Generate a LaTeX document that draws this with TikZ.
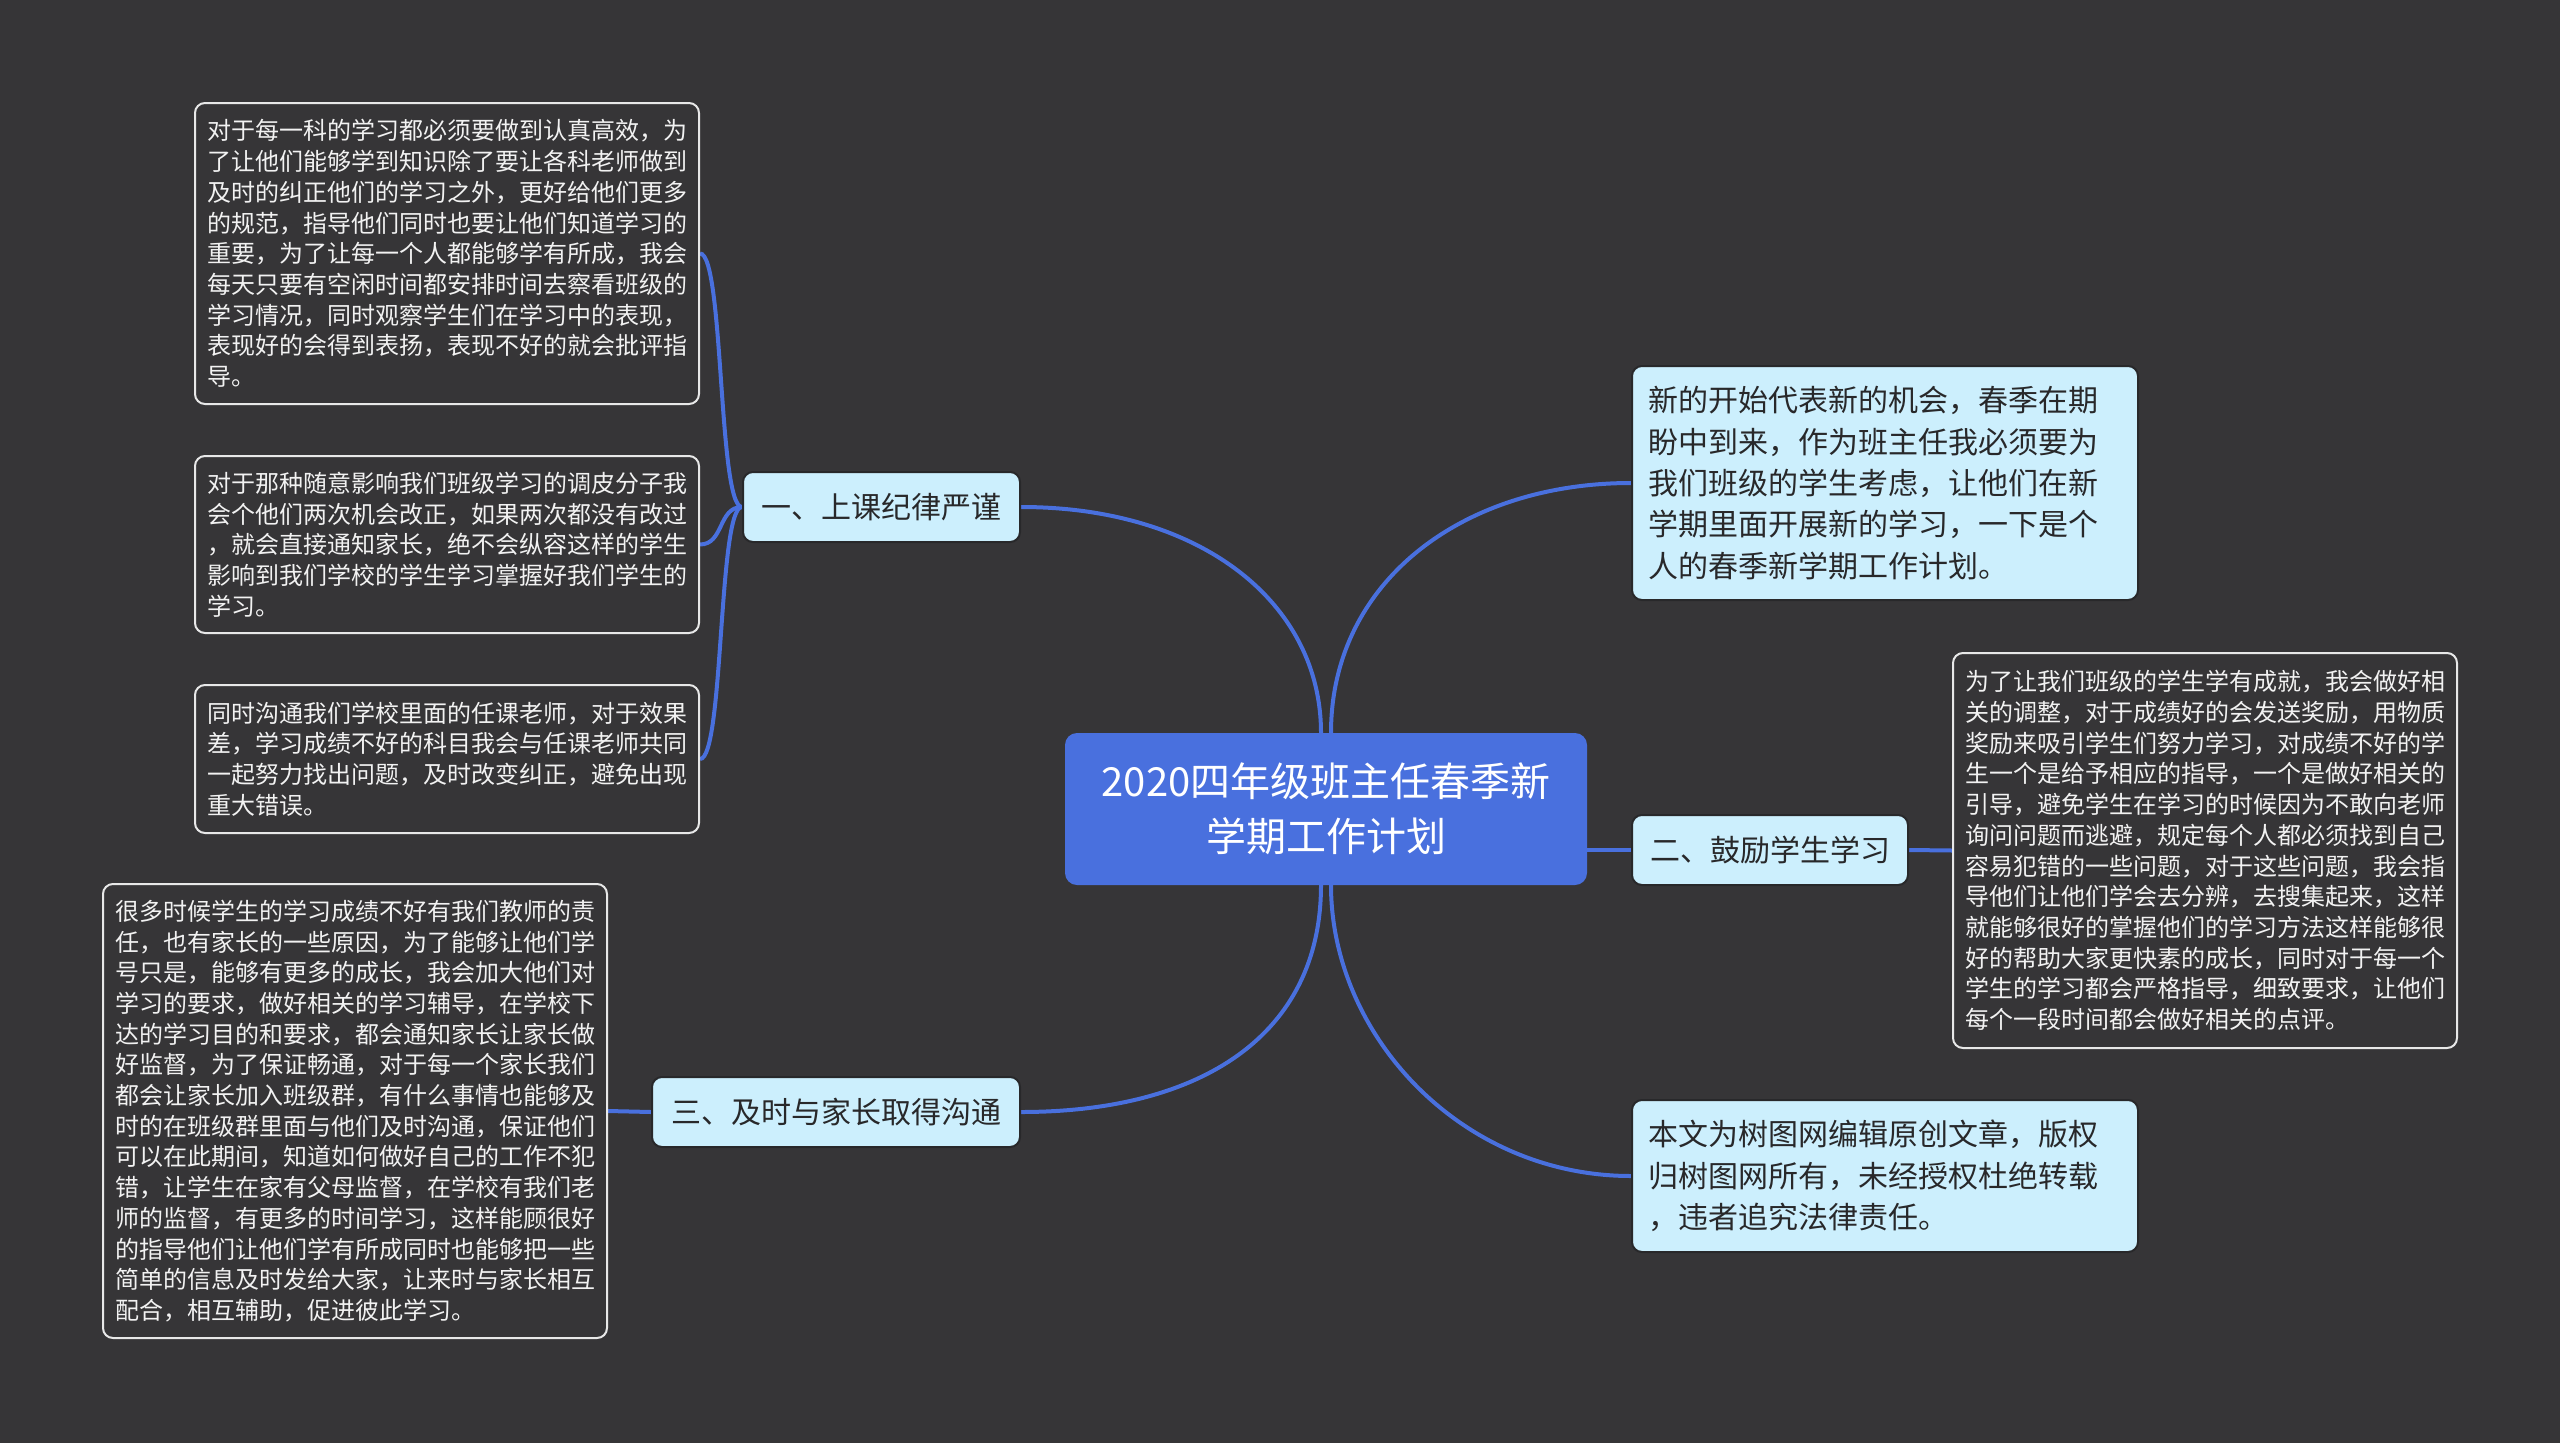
\documentclass[tikz,border=0pt]{standalone}
\usepackage{fontspec}
\setmainfont{Noto Sans CJK SC}
\definecolor{bg}{RGB}{54,53,55}
\definecolor{mainblue}{RGB}{73,112,222}
\definecolor{lightfill}{RGB}{204,239,253}
\definecolor{darktext}{RGB}{40,40,42}
\definecolor{paletext}{RGB}{242,242,242}
\definecolor{boxline}{RGB}{232,232,232}
\pgfdeclarelayer{canvas}
\pgfdeclarelayer{links}
\pgfsetlayers{canvas,links,main}
\tikzset{
  darkbox/.style={draw=boxline, line width=2pt, fill=bg, rounded corners=10pt,
    text=paletext, font=\fontsize{24}{30.7}\selectfont, align=left,
    inner xsep=12pt, inner ysep=0pt, text width=480pt},
  notebox/.style={draw=darktext, line width=2pt, fill=lightfill, rounded corners=10pt,
    text=darktext, font=\fontsize{30}{41.3}\selectfont, align=left,
    inner xsep=16pt, inner ysep=0pt, text width=474pt},
  topicbox/.style={draw=darktext, line width=2pt, fill=lightfill, rounded corners=10pt,
    text=darktext, font=\fontsize{30}{36}\selectfont, align=center, inner sep=0pt},
  rootbox/.style={fill=mainblue, rounded corners=12pt, text=white,
    font=\fontsize{40}{55}\selectfont, align=center, inner sep=0pt},
  link/.style={draw=mainblue, line width=4pt}
}
\begin{document}
\begin{tikzpicture}[x=1pt,y=-1pt]
\useasboundingbox (0,0) rectangle (2560,1443);
\begin{pgfonlayer}{canvas}
\fill[bg] (0,0) rectangle (2560,1443);
\end{pgfonlayer}

\node[rootbox, minimum width=522pt, minimum height=152pt] (root) at (1326,809)
  {2020四年级班主任春季新\\学期工作计划};

\node[topicbox, minimum width=277pt, minimum height=70pt] (t1) at (881.5,507) {一、上课纪律严谨};
\node[topicbox, minimum width=276pt, minimum height=70pt] (t2) at (1770,850) {二、鼓励学生学习};
\node[topicbox, minimum width=368pt, minimum height=70pt] (t3) at (836,1112) {三、及时与家长取得沟通};

\node[notebox, minimum height=234pt] (r1) at (1885,483)
  {新的开始代表新的机会，春季在期\\盼中到来，作为班主任我必须要为\\我们班级的学生考虑，让他们在新\\学期里面开展新的学习，一下是个\\人的春季新学期工作计划。};
\node[notebox, minimum height=152pt] (r3) at (1885,1176)
  {本文为树图网编辑原创文章，版权\\归树图网所有，未经授权杜绝转载\\，违者追究法律责任。};

\node[darkbox, minimum height=395pt] (d2) at (2205,850.5)
  {为了让我们班级的学生学有成就，我会做好相\\关的调整，对于成绩好的会发送奖励，用物质\\奖励来吸引学生们努力学习，对成绩不好的学\\生一个是给予相应的指导，一个是做好相关的\\引导，避免学生在学习的时候因为不敢向老师\\询问问题而逃避，规定每个人都必须找到自己\\容易犯错的一些问题，对于这些问题，我会指\\导他们让他们学会去分辨，去搜集起来，这样\\就能够很好的掌握他们的学习方法这样能够很\\好的帮助大家更快素的成长，同时对于每一个\\学生的学习都会严格指导，细致要求，让他们\\每个一段时间都会做好相关的点评。};

\node[darkbox, minimum height=301pt] (l1) at (447,253.5)
  {对于每一科的学习都必须要做到认真高效，为\\了让他们能够学到知识除了要让各科老师做到\\及时的纠正他们的学习之外，更好给他们更多\\的规范，指导他们同时也要让他们知道学习的\\重要，为了让每一个人都能够学有所成，我会\\每天只要有空闲时间都安排时间去察看班级的\\学习情况，同时观察学生们在学习中的表现，\\表现好的会得到表扬，表现不好的就会批评指\\导。};
\node[darkbox, minimum height=177pt] (l2) at (447,544.5)
  {对于那种随意影响我们班级学习的调皮分子我\\会个他们两次机会改正，如果两次都没有改过\\，就会直接通知家长，绝不会纵容这样的学生\\影响到我们学校的学生学习掌握好我们学生的\\学习。};
\node[darkbox, minimum height=148pt] (l3) at (447,759)
  {同时沟通我们学校里面的任课老师，对于效果\\差，学习成绩不好的科目我会与任课老师共同\\一起努力找出问题，及时改变纠正，避免出现\\重大错误。};
\node[darkbox, minimum height=454pt] (l4) at (355,1111)
  {很多时候学生的学习成绩不好有我们教师的责\\任，也有家长的一些原因，为了能够让他们学\\号只是，能够有更多的成长，我会加大他们对\\学习的要求，做好相关的学习辅导，在学校下\\达的学习目的和要求，都会通知家长让家长做\\好监督，为了保证畅通，对于每一个家长我们\\都会让家长加入班级群，有什么事情也能够及\\时的在班级群里面与他们及时沟通，保证他们\\可以在此期间，知道如何做好自己的工作不犯\\错，让学生在家有父母监督，在学校有我们老\\师的监督，有更多的时间学习，这样能顾很好\\的指导他们让他们学有所成同时也能够把一些\\简单的信息及时发给大家，让来时与家长相互\\配合，相互辅助，促进彼此学习。};

\coordinate (rtl) at ([xshift=-5pt]root.north);
\coordinate (rtr) at ([xshift=5pt]root.north);
\coordinate (rbl) at ([xshift=-5pt]root.south);
\coordinate (rbr) at ([xshift=5pt]root.south);
\coordinate (rr) at (root.east |- t2.west);

\begin{pgfonlayer}{links}
\draw[link] (t1.east) .. controls +(180,0) and +(0,-130) .. (rtl);
\draw[link] (rtr) .. controls +(0,-150) and +(-170,0) .. (r1.west);
\draw[link] (rbl) .. controls +(0,150) and +(180,0) .. (t3.east);
\draw[link] (rbr) .. controls +(0,150) and +(-170,0) .. (r3.west);
\draw[link] (rr) -- (t2.west);
\draw[link] (t2.east) -- (d2.west);
\draw[link] (t1.west) .. controls +(-24,0) and +(24,0) .. (l1.east);
\draw[link] (t1.west) .. controls +(-24,0) and +(24,0) .. (l2.east);
\draw[link] (t1.west) .. controls +(-24,0) and +(24,0) .. (l3.east);
\draw[link] (t3.west) -- (l4.east);
\end{pgfonlayer}
\end{tikzpicture}
\end{document}
